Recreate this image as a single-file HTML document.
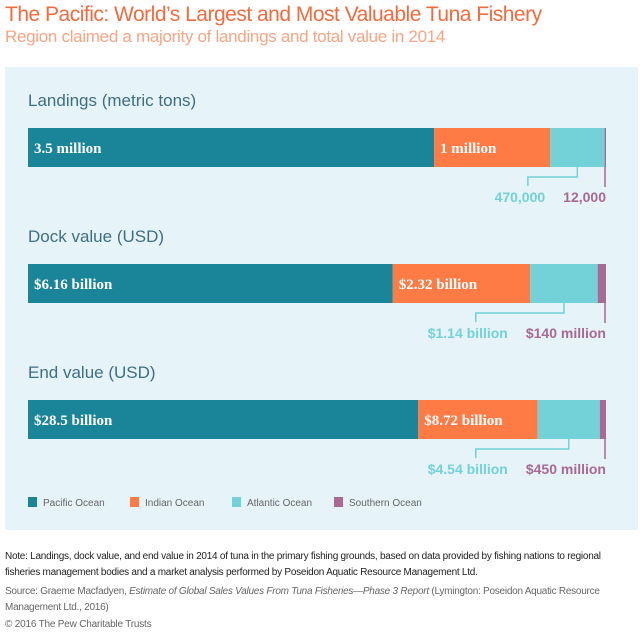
<!DOCTYPE html>
<html><head><meta charset="utf-8"><style>
body{margin:0;width:643px;height:636px;background:#fff;font-family:"Liberation Sans",sans-serif;overflow:hidden;position:relative}
.t{position:absolute;white-space:nowrap}
</style></head><body>
<div class="t" style="left:5px;top:3px;font-size:21px;color:#f26b3f;letter-spacing:-0.5px">The Pacific: World’s Largest and Most Valuable Tuna Fishery</div>
<div class="t" style="left:5px;top:27px;font-size:17px;color:#f8a583;letter-spacing:-0.3px">Region claimed a majority of landings and total value in 2014</div>
<div style="position:absolute;left:5px;top:67px;width:633px;height:463px;background:#e6f3f9"></div>
<svg id="c" width="643" height="636" style="position:absolute;left:0;top:0"></svg>
<div class="t" style="left:5px;top:549px;font-size:10px;letter-spacing:-0.25px;color:#222;line-height:16px">Note: Landings, dock value, and end value in 2014 of tuna in the primary fishing grounds, based on data provided by fishing nations to regional<br>fisheries management bodies and a market analysis performed by Poseidon Aquatic Resource Management Ltd.</div>
<div class="t" style="left:5px;top:584px;font-size:10px;letter-spacing:-0.25px;color:#666;line-height:16px">Source: Graeme Macfadyen, <i>Estimate of Global Sales Values From Tuna Fisheries—Phase 3 Report</i> (Lymington: Poseidon Aquatic Resource<br>Management Ltd., 2016)</div>
<div class="t" style="left:5px;top:619px;font-size:10px;letter-spacing:-0.2px;color:#666">© 2016 The Pew Charitable Trusts</div>
<script>
const groups=["Landings (metric tons)","Dock value (USD)","End value (USD)"];
const pacific=[3.5,6.16,28.5];
const indian=[1,2.32,8.72];
const atlantic=[0.47,1.14,4.54];
const southern=[0.012,0.14,0.45];
const pacificLabels=["3.5 million","$6.16 billion","$28.5 billion"];
const indianLabels=["1 million","$2.32 billion","$8.72 billion"];
const atlanticLabels=["470,000","$1.14 billion","$4.54 billion"];
const southernLabels=["12,000","$140 million","$450 million"];
const seriesNames=["Pacific Ocean","Indian Ocean","Atlantic Ocean","Southern Ocean"];
const colors=["#1a8599","#ff7b45","#72d2d8","#a86a92"];
const svg=document.getElementById('c');const NS="http://www.w3.org/2000/svg";
function mk(t,a,p){const e=document.createElementNS(NS,t);for(const k in a)e.setAttribute(k,a[k]);(p||svg).appendChild(e);return e;}
const X0=28,W=578;
groups.forEach((g,i)=>{
  const y0=128+i*136;
  const tt=mk('text',{x:28,y:y0-22,'font-size':17,fill:'#3f6f80'});tt.textContent=g;
  
  
  const vals=[pacific[i],indian[i],atlantic[i],southern[i]];
  const tot=vals.reduce((a,b)=>a+b,0);
  const sx=v=>v/tot*W;
  let x=X0;const xs=[];
  vals.forEach((v,j)=>{
    const r=mk('rect',{x:x,y:y0,width:sx(v),height:39,fill:colors[j]});
    
    
    xs.push([x,x+sx(v)]);x+=sx(v);
  });
  const lb=[[pacificLabels[i],xs[0][0]+6],[indianLabels[i],xs[1][0]+6]];
  lb.forEach(([s,lx])=>{const t=mk('text',{x:lx,y:y0+25,'font-size':15,'font-weight':'bold','font-family':'Liberation Serif',fill:'#fff'});t.textContent=s;
    
    });
  const ly=y0+39;
  mk('line',{x1:xs[3][1]-1,y1:ly,x2:xs[3][1]-1,y2:ly+20,stroke:'#a86a92','stroke-width':1.5});
  const st=mk('text',{x:606,y:ly+35,'font-size':14,'font-weight':'bold',fill:'#a86a92','text-anchor':'end'});st.textContent=southernLabels[i];
  
  
  const sStart=606-st.getComputedTextLength();
  const at=mk('text',{x:sStart-18,y:ly+35,'font-size':14,'font-weight':'bold',fill:'#72d2d8','text-anchor':'end'});at.textContent=atlanticLabels[i];
  
  
  const lx=sStart-18-at.getComputedTextLength()/2+8;
  const am=(xs[2][0]+xs[2][1])/2;
  mk('polyline',{points:`${am},${ly} ${am},${ly+10} ${lx},${ly+10} ${lx},${ly+19}`,fill:'none',stroke:'#72d2d8','stroke-width':1.5});
});
const lgx=[28,130,232,334];
seriesNames.forEach((n,j)=>{
  const r=mk('rect',{x:lgx[j],y:497,width:9,height:10,fill:colors[j]});
  
  
  const t=mk('text',{x:lgx[j]+15,y:506,'font-size':10,fill:'#666'});t.textContent=n;
  
  
});
</script>
</body></html>
